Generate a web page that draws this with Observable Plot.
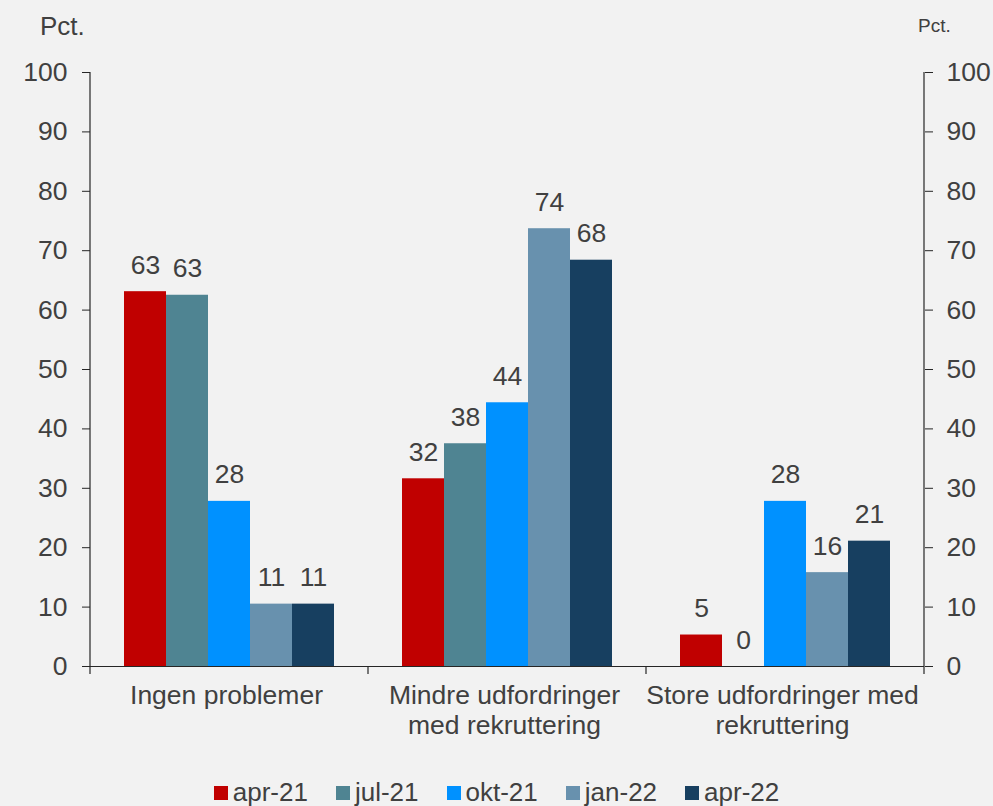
<!DOCTYPE html>
<html>
<head>
<meta charset="utf-8">
<script src="https://cdn.jsdelivr.net/npm/d3@7"></script>
<script src="https://cdn.jsdelivr.net/npm/@observablehq/plot@0.6"></script>
<style>
  html, body { margin: 0; padding: 0; background: #f2f2f2; }
  body { width: 993px; height: 806px; position: relative; overflow: hidden;
         font-family: "Liberation Sans", Arial, sans-serif; color: #404040; }
  #chart { position: absolute; left: 0; top: 0; }
  .pct { position: absolute; color: #404040; }
  #legend { position: absolute; left: 0; width: 993px; top: 777px; display: flex;
            justify-content: center; align-items: center; gap: 28px; font-size: 26px; }
  .item { display: flex; align-items: center; gap: 5px; }
  .sw { width: 14px; height: 14px; display: inline-block; }
</style>
</head>
<body>
<div id="chart"></div>
<div class="pct" style="left:40px; top:11px; font-size:26px;">Pct.</div>
<div class="pct" style="left:918px; top:15px; font-size:19px;">Pct.</div>
<div id="legend"></div>
<script>
const categories = ["Ingen problemer", "Mindre udfordringer med rekruttering", "Store udfordringer med rekruttering"];
const categoryLabels = ["Ingen problemer", "Mindre udfordringer\nmed rekruttering", "Store udfordringer med\nrekruttering"];
const series = ["apr-21", "jul-21", "okt-21", "jan-22", "apr-22"];
const colors = ["#c00000", "#4f8492", "#0091ff", "#6891ae", "#173f60"];
const apr21 = [63.1, 31.6, 5.3];
const jul21 = [62.5, 37.5, 0];
const okt21 = [27.8, 44.4, 27.8];
const jan22 = [10.5, 73.7, 15.8];
const apr22 = [10.5, 68.4, 21.1];
const yTicks = [0, 10, 20, 30, 40, 50, 60, 70, 80, 90, 100];

const seriesValues = [apr21, jul21, okt21, jan22, apr22];
const data = [];
categories.forEach((c, i) => {
  series.forEach((s, j) => data.push({cat: c, series: s, value: seriesValues[j][i]}));
});
const labelOf = Object.fromEntries(categories.map((c, i) => [c, categoryLabels[i]]));

const W = 993, H = 760;
const chart = Plot.plot({
  width: W, height: H,
  marginLeft: 89, marginRight: 69, marginTop: 72, marginBottom: 94,
  style: {fontFamily: "'Liberation Sans', Arial, sans-serif", fontSize: "26.5px", background: "#f2f2f2", color: "#404040"},
  fx: {domain: categories, padding: 0, axis: null},
  x: {domain: series, paddingInner: 0, paddingOuter: 0.75, axis: null},
  y: {domain: [0, 100], axis: null},
  color: {domain: series, range: colors},
  marks: [
    Plot.axisY(yTicks, {anchor: "left", tickSize: 8, tickPadding: 15, label: null, stroke: "#262626"}),
    Plot.axisY(yTicks, {anchor: "right", tickSize: 8, tickPadding: 14, label: null, stroke: "#262626", textAnchor: "start"}),
    Plot.barY(data, {fx: "cat", x: "series", y: "value", fill: "series"}),
    Plot.text(data, {fx: "cat", x: "series", y: "value", text: d => String(Math.round(d.value)), lineAnchor: "bottom", dy: -18, fill: "#404040"}),
    Plot.ruleY([0], {stroke: "#262626", strokeWidth: 1.2}),
    Plot.text(categories, {fx: d => d, text: d => labelOf[d], frameAnchor: "bottom", lineAnchor: "top", dy: 16, dx: -3, lineHeight: 1.13, fill: "#404040"})
  ]
});
document.getElementById("chart").appendChild(chart);

// axis lines and group boundary ticks from the plot's own scales
const fx = chart.scale("fx");
const y = chart.scale("y");
const svg = d3.select(chart);
const y0 = y.apply(0), y100 = y.apply(100);
const bounds = categories.map(c => fx.apply(c)).concat([fx.apply(categories[categories.length - 1]) + fx.bandwidth]);
const g = svg.append("g").attr("stroke", "#262626").attr("stroke-width", 1.2);
[bounds[0], bounds[bounds.length - 1]].forEach(xv => {
  g.append("line").attr("x1", xv).attr("x2", xv).attr("y1", y100).attr("y2", y0);
});
bounds.forEach(xv => {
  g.append("line").attr("x1", xv).attr("x2", xv).attr("y1", y0).attr("y2", y0 + 8);
});

// legend
const legend = d3.select("#legend");
series.forEach((s, i) => {
  const it = legend.append("div").attr("class", "item");
  it.append("span").attr("class", "sw").style("background", colors[i]);
  it.append("span").text(s);
});
</script>
</body>
</html>
